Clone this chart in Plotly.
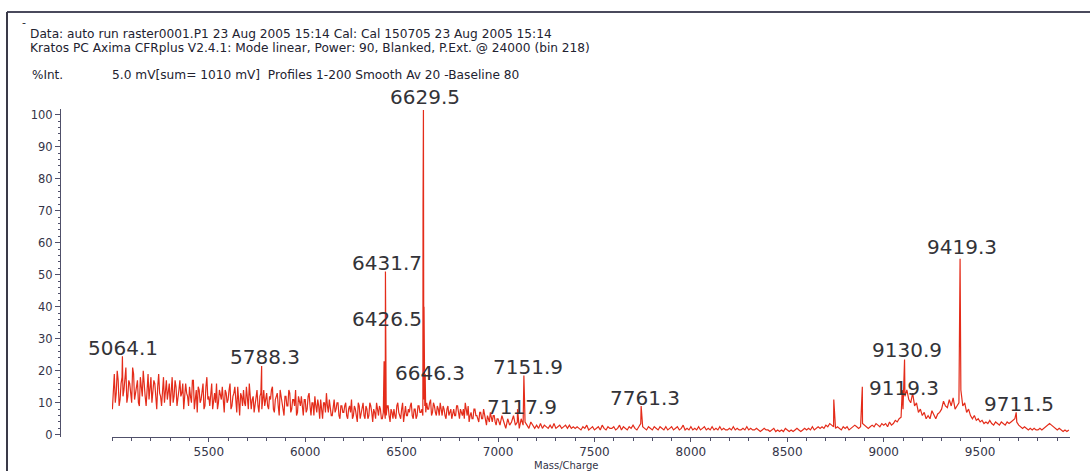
import plotly.graph_objects as go

# ---------------- data ----------------
grid_start = 5000
grid_step = 10
# baseline/noise intensities (% Int.) read every 10 Da, one row = 200 Da
r5000 = [8, 19, 13, 17, 11, 18, 14, 21, 12, 16, 10, 19, 13, 17, 9, 15, 20, 12, 16, 11]
r5200 = [18, 13, 16, 8, 19, 12, 15, 10, 17, 14, 9, 18, 12, 15, 11, 17, 13, 8, 16, 12]
r5400 = [15, 10, 17, 12, 7, 14, 11, 16, 9, 18, 12, 14, 8, 13, 16, 10, 12, 15, 7, 13]
r5600 = [11, 16, 9, 13, 10, 15, 6, 12, 14, 9, 11, 16, 8, 12, 10, 14, 7, 13, 11, 9]
r5800 = [13, 8, 11, 15, 7, 12, 9, 14, 10, 6, 12, 9, 13, 8, 11, 14, 7, 10, 12, 6]
r6000 = [11, 8, 13, 6, 10, 12, 7, 9, 11, 5, 10, 13, 7, 9, 6, 11, 8, 10, 5, 9]
r6200 = [7, 10, 5, 9, 11, 6, 8, 4, 9, 7, 10, 5, 8, 6, 9, 4, 7, 10, 6, 8]
r6400 = [5, 8, 6, 9, 4, 7, 8, 5, 10, 6, 8, 4, 9, 6, 7, 10, 5, 8, 6, 9]
r6600 = [7, 6, 9, 10, 8, 11, 7, 9, 6, 8, 10, 6, 8, 5, 9, 7, 5, 8, 6, 9]
r6800 = [5, 7, 8, 10, 6, 4, 7, 5, 8, 6, 4, 7, 5, 6, 3, 5, 7, 4, 6, 3]
r7000 = [5, 3, 6, 4, 2, 5, 3, 4, 6, 3, 4, 2, 5, 3, 4, 3, 2, 4, 3, 2]
r7200 = [3, 2, 3.5, 2, 3, 2.5, 2, 3, 2, 3.5, 2, 2.5, 3, 2, 2.5, 3, 2, 3, 2, 2.5]
r7400 = [2, 2.5, 2, 1.5, 2.5, 2, 3, 1.5, 2, 2.5, 1.5, 2, 2.5, 1.5, 3, 2, 1.5, 2.5, 2, 2]
r7600 = [2.5, 1.5, 2, 3, 1.5, 2.5, 2, 1.5, 2.5, 2, 3, 2, 1.5, 2.5, 3.5, 2.5, 2, 1.5, 2.5, 2]
r7800 = [1.5, 2.5, 2, 1.5, 2.5, 2, 1.5, 2.5, 1.5, 2, 2.5, 1.5, 2, 2.5, 1.5, 2, 3, 1.5, 2, 1.5]
r8000 = [2.5, 1.5, 2, 1.5, 2.5, 1.5, 2, 2.5, 1.5, 2, 1.5, 2.5, 1.5, 2, 1.5, 2.5, 1.5, 2, 1.5, 1.5]
r8200 = [2, 1.5, 2.5, 1.5, 2, 1.5, 1.5, 2, 1.5, 2.5, 1.5, 2, 1.5, 1.5, 2, 1.5, 1, 1.5, 2, 1.5]
r8400 = [1.5, 1, 1.5, 2, 1, 1.5, 1, 1.5, 1, 2, 1.5, 1, 1.5, 1, 1.5, 2, 1.5, 1, 1.5, 2]
r8600 = [1.5, 2, 1.5, 2.5, 1.5, 2, 2.5, 2, 2.5, 2, 3, 2.5, 3.5, 3, 2.5, 2, 2.5, 2, 1.5, 2.5]
r8800 = [2, 2.5, 1.5, 2, 2.5, 3, 2.5, 2, 2.5, 3.5, 3, 2.5, 2, 2.5, 3, 2.5, 3.5, 3, 2.5, 3.5]
r9000 = [3, 3.5, 2.5, 4, 3, 3.5, 4.5, 4, 5, 5.5, 8, 12, 14, 11, 10, 13, 9, 10, 7, 8]
r9200 = [6, 7, 5, 6, 5, 7.5, 6, 5, 6.5, 7, 8, 10.5, 9, 8.5, 11, 9, 11.5, 8, 9, 10]
r9400 = [14, 9, 10, 7, 8, 6, 5, 6, 4.5, 5, 4, 4.5, 3.5, 4, 3.5, 4.5, 3.5, 3, 4, 3.5]
r9600 = [3, 4, 3.5, 3, 4, 3.5, 4, 4.5, 5, 4, 3, 2.5, 2, 2.5, 2, 1.5, 2, 1.5, 2, 1.5]
r9800 = [1.5, 2, 1.5, 2, 2.5, 3, 3.5, 3, 2.5, 2, 1.5, 2, 1.5, 1, 1.5, 1, 1.5]

# extra noise samples at the half steps (5005, 5015, ...) in the dense region 5000-7000
half_start = 5005
h5000 = [15, 10, 20, 9, 16, 12, 19, 10, 17, 13, 21, 11, 15, 10, 18, 12, 14, 9, 19, 14]
h5200 = [10, 17, 11, 15, 13, 9, 18, 14, 11, 16, 13, 10, 17, 9, 14, 12, 16, 11, 13, 9]
h5400 = [12, 17, 8, 14, 15, 10, 13, 8, 15, 11, 9, 16, 12, 10, 8, 14, 11, 9, 14, 10]
h5600 = [14, 8, 12, 15, 7, 11, 13, 9, 10, 15, 8, 12, 11, 7, 13, 9, 12, 8, 14, 12]
h5800 = [9, 12, 14, 8, 11, 13, 6, 11, 8, 12, 9, 14, 7, 11, 9, 6, 12, 9, 8, 11]
h6000 = [7, 12, 9, 10, 6, 9, 11, 5, 8, 10, 7, 9, 11, 6, 10, 7, 10, 6, 9, 7]
h6200 = [9, 6, 8, 7, 5, 9, 6, 10, 5, 8, 6, 9, 5, 10, 7, 8, 5, 8, 9, 5]
h6400 = [7, 5, 9, 6, 8, 5, 6, 9, 7, 5, 10, 7, 6, 8, 9, 6, 8, 5, 9, 7]
h6600 = [8, 11, 7, 8, 10, 6, 10, 7, 9, 6, 8, 9, 6, 8, 6, 8, 7, 6, 9, 7]
h6800 = [8, 6, 5, 7, 9, 6, 5, 8, 6, 5, 7, 5, 8, 4, 6, 4, 5, 6, 4, 5]

# sharp peaks (drawn position, % Int.)
peak_mass = [5052, 5774, 6409, 6416, 6611, 6613, 6616, 6622, 7101, 7134, 7742,
             8741, 8889, 9096, 9108, 9396, 9687]
peak_int = [24.5, 21.5, 23, 51, 72, 101.5, 40, 19, 8, 18.5, 9,
            11, 15, 14, 23.5, 55, 7]

# peak labels
label_text = ["6629.5", "6431.7", "6426.5", "6646.3", "5064.1", "5788.3", "7151.9",
              "7117.9", "7761.3", "9130.9", "9119.3", "9419.3", "9711.5"]

x_ticks = [5500, 6000, 6500, 7000, 7500, 8000, 8500, 9000, 9500]
y_ticks = [0, 10, 20, 30, 40, 50, 60, 70, 80, 90, 100]

# ---------------- build series ----------------
noise = (r5000 + r5200 + r5400 + r5600 + r5800 + r6000 + r6200 + r6400 + r6600 + r6800 +
         r7000 + r7200 + r7400 + r7600 + r7800 + r8000 + r8200 + r8400 + r8600 + r8800 +
         r9000 + r9200 + r9400 + r9600 + r9800)
half = h5000 + h5200 + h5400 + h5600 + h5800 + h6000 + h6200 + h6400 + h6600 + h6800
pts = [(grid_start + grid_step * i, v) for i, v in enumerate(noise)]
pts += [(half_start + grid_step * i, v) for i, v in enumerate(half)]
pts += list(zip(peak_mass, peak_int))
pts.sort(key=lambda p: p[0])
mass = [p[0] for p in pts]
inten = [p[1] for p in pts]

# ---------------- layout helpers ----------------
W, H = 1090, 471
ML, MR, MT, MB = 60, 20, 109, 34
PW, PH = W - ML - MR, H - MT - MB


def px(x):
    return (x - ML) / PW


def py(y):
    return (H - MB - y) / PH


label_pos = [(425, 97), (386.5, 263), (386.5, 319), (429.5, 373), (123, 348), (265, 357),
             (527.5, 367), (521.5, 407), (644.5, 398), (907, 350), (904, 388),
             (961.5, 247), (1018.5, 404)]

AX = "#50506a"
TXT = "#343448"
FONT = "DejaVu Sans"

fig = go.Figure()
fig.add_trace(go.Scatter(x=mass, y=inten, mode="lines",
                         line=dict(color="rgb(228,44,26)", width=1.2),
                         hoverinfo="skip", showlegend=False))

annotations = []
for t, (lx, ly) in zip(label_text, label_pos):
    annotations.append(dict(text=t, x=px(lx), y=py(ly), xref="paper", yref="paper",
                            xanchor="center", yanchor="middle", showarrow=False,
                            font=dict(family=FONT, size=20, color="#333338")))

header = [
    ("-", 20, 22, 11),
    ("Data: auto run raster0001.P1 23 Aug 2005 15:14 Cal: Cal 150705 23 Aug 2005 15:14", 28, 34, 12.2),
    ("Kratos PC Axima CFRplus V2.4.1: Mode linear, Power: 90, Blanked, P.Ext. @ 24000 (bin 218)", 28, 48, 12.2),
    ("%Int.", 30, 75, 12),
    ("5.0 mV[sum= 1010 mV]  Profiles 1-200 Smooth Av 20 -Baseline 80", 110, 75, 12.2),
]
for t, hx, hy, fs in header:
    annotations.append(dict(text=t, x=px(hx), y=py(hy), xref="paper", yref="paper",
                            xanchor="left", yanchor="middle", showarrow=False,
                            font=dict(family=FONT, size=fs, color="#222230")))
annotations.append(dict(text="Mass/Charge", x=px(566), y=py(465), xref="paper", yref="paper",
                        xanchor="center", yanchor="middle", showarrow=False,
                        font=dict(family=FONT, size=10, color=TXT)))

shapes = [
    dict(type="line", xref="paper", yref="paper", x0=px(7), x1=px(1090), y0=py(12), y1=py(12),
         line=dict(color="#4a4a5c", width=2)),
    dict(type="line", xref="paper", yref="paper", x0=px(7), x1=px(7), y0=py(12), y1=py(471),
         line=dict(color="#3a3a48", width=2)),
]

fig.update_layout(
    width=W, height=H, autosize=False,
    margin=dict(l=ML, r=MR, t=MT, b=MB, pad=0),
    paper_bgcolor="white", plot_bgcolor="white",
    showlegend=False,
    annotations=annotations,
    shapes=shapes,
    xaxis=dict(domain=[px(112), 1], range=[4998, 9966],
               showline=True, linecolor=AX, linewidth=1, mirror=False,
               ticks="outside", ticklen=4, tickcolor=AX, tickwidth=1,
               tickvals=x_ticks, ticktext=[str(v) for v in x_ticks],
               tickfont=dict(family=FONT, size=12, color=TXT),
               showgrid=False, zeroline=False,
               minor=dict(dtick=100, tick0=5000, ticks="outside", ticklen=3,
                          tickcolor=AX, showgrid=False)),
    yaxis=dict(anchor="free", position=0, range=[-0.7, 101.8],
               showline=True, linecolor=AX, linewidth=1,
               ticks="outside", ticklen=5, tickcolor=AX, tickwidth=1,
               tickvals=y_ticks, ticktext=[str(v) for v in y_ticks],
               tickfont=dict(family=FONT, size=11.5, color=TXT),
               showgrid=False, zeroline=False,
               minor=dict(dtick=2, tick0=0, ticks="outside", ticklen=2,
                          tickcolor=AX, showgrid=False)),
)

fig.write_html("out.html")
